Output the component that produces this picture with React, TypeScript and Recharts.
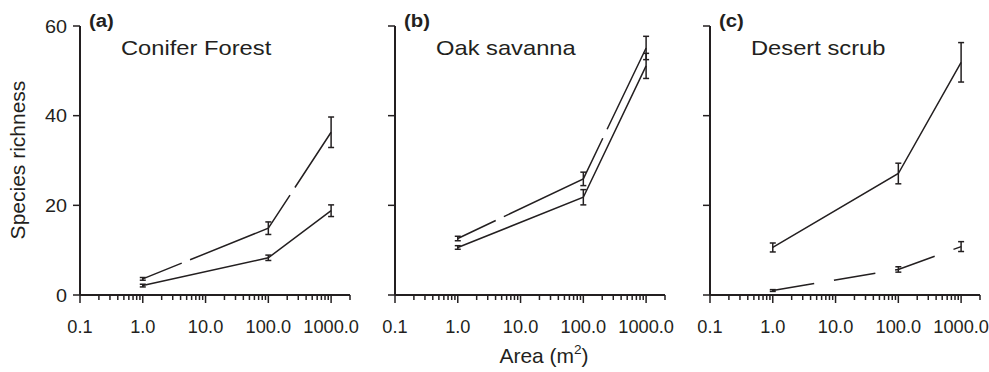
import React from "react";
import { LineChart, Line, XAxis, YAxis, ErrorBar } from "recharts";

// ---- data ----
const areas = [1, 100, 1000];

const coniferSolid = [2.1, 8.3, 18.8];
const coniferSolidErr = [0.3, 0.6, 1.3];
const coniferDashed = [3.6, 14.9, 36.3];
const coniferDashedErr = [0.3, 1.4, 3.4];

const oakSolid = [10.6, 21.8, 51.1];
const oakSolidErr = [0.4, 1.7, 2.8];
const oakDashed = [12.6, 25.9, 55.1];
const oakDashedErr = [0.5, 1.5, 2.6];

const desertSolid = [10.6, 27.1, 51.9];
const desertSolidErr = [1.0, 2.3, 4.4];
const desertDashed = [1.0, 5.7, 10.8];
const desertDashedErr = [0.2, 0.6, 1.1];

const panelLetters = ["(a)", "(b)", "(c)"];
const panelTitles = ["Conifer Forest", "Oak savanna", "Desert scrub"];

const majorXTicks = [0.1, 1, 10, 100, 1000];
const majorXLabels = ["0.1", "1.0", "10.0", "100.0", "1000.0"];
const minorXTicks = [
  0.2, 0.3, 0.4, 0.5, 0.6, 0.7, 0.8, 0.9,
  2, 3, 4, 5, 6, 7, 8, 9,
  20, 30, 40, 50, 60, 70, 80, 90,
  200, 300, 400, 500, 600, 700, 800, 900,
  2000,
];
const yTicks = [0, 20, 40, 60];
const yAxisTitle = "Species richness";
const xAxisTitle = "Area (m";
const xAxisTitleSup = "2";

// ---- style ----
const INK = "#231f20";
const FONT = "'Liberation Sans', Arial, Helvetica, sans-serif";
const SX_TITLE = 1.13;
const SX_TICK = 1.04;
const SX_AXIS = 1.05;
const PANEL_STEP = 315;

const allXTicks = [...majorXTicks, ...minorXTicks].sort((a, b) => a - b);

function buildRows(s: number[], se: number[], d: number[], de: number[]) {
  return areas.map((a, i) => ({
    area: a,
    solid: s[i],
    solidErr: se[i],
    dashed: d[i],
    dashedErr: de[i],
  }));
}

const panels = [
  { data: buildRows(coniferSolid, coniferSolidErr, coniferDashed, coniferDashedErr), dash: "42 9 124 9 80" },
  { data: buildRows(oakSolid, oakSolidErr, oakDashed, oakDashedErr), dash: "42 9 133 10 100" },
  { data: buildRows(desertSolid, desertSolidErr, desertDashed, desertDashedErr), dash: "42 20" },
];

function SText(props: any) {
  const { x, y, size, anchor = "start", weight = "normal", sx = 1, children } = props;
  return (
    <text
      transform={`translate(${x},${y}) scale(${sx},1)`}
      x={0}
      y={0}
      fontSize={size}
      fontWeight={weight}
      fontFamily={FONT}
      textAnchor={anchor}
      fill={INK}
    >
      {children}
    </text>
  );
}

function renderXTick(props: any) {
  const { x, y, payload } = props;
  const v = payload.value;
  const idx = majorXTicks.indexOf(v);
  const major = idx >= 0;
  return (
    <g>
      <line x1={x} x2={x} y1={y} y2={y + (major ? 8 : 5)} stroke={INK} strokeWidth={1.5} />
      {major && (
        <SText x={x} y={y + 38} size={17.5} anchor="middle" sx={SX_TICK}>
          {majorXLabels[idx]}
        </SText>
      )}
    </g>
  );
}

function makeYTick(showLabel: boolean) {
  return (props: any) => {
    const { x, y, payload } = props;
    return (
      <g>
        <line x1={x - 7} x2={x} y1={y} y2={y} stroke={INK} strokeWidth={1.5} />
        {showLabel && (
          <SText x={x - 13} y={y + 6.5} size={18} anchor="end" sx={1.1}>
            {String(payload.value)}
          </SText>
        )}
      </g>
    );
  };
}

function Panel({ index }: { index: number }) {
  const p = panels[index];
  return (
    <div style={{ position: "absolute", left: index * PANEL_STEP, top: 0 }}>
      <LineChart
        width={370}
        height={372}
        data={p.data}
        margin={{ top: 26, right: 20, bottom: 67, left: 70 }}
      >
        <XAxis
          dataKey="area"
          type="number"
          scale="log"
          domain={[0.1, 2000]}
          allowDataOverflow
          ticks={allXTicks}
          interval={0}
          height={10}
          tickSize={0}
          tickMargin={0}
          tickLine={false}
          axisLine={{ stroke: INK, strokeWidth: 2 }}
          tick={renderXTick}
        />
        <YAxis
          type="number"
          domain={[0, 60]}
          ticks={yTicks}
          interval={0}
          width={10}
          tickSize={0}
          tickMargin={0}
          tickLine={false}
          axisLine={{ stroke: INK, strokeWidth: 2 }}
          tick={makeYTick(index === 0)}
        />
        <Line
          type="linear"
          dataKey="solid"
          stroke={INK}
          strokeWidth={1.5}
          dot={false}
          activeDot={false}
          isAnimationActive={false}
        >
          <ErrorBar dataKey="solidErr" width={3} stroke={INK} strokeWidth={1.5} direction="y" />
        </Line>
        <Line
          type="linear"
          dataKey="dashed"
          stroke={INK}
          strokeWidth={1.5}
          strokeDasharray={p.dash}
          dot={false}
          activeDot={false}
          isAnimationActive={false}
        >
          <ErrorBar dataKey="dashedErr" width={3} stroke={INK} strokeWidth={1.5} direction="y" />
        </Line>
      </LineChart>
    </div>
  );
}

export default function App() {
  return (
    <div
      style={{
        position: "absolute",
        left: 0,
        top: 0,
        width: 989,
        height: 372,
        overflow: "hidden",
        background: "#fff",
      }}
    >
      {panels.map((_, i) => (
        <Panel key={i} index={i} />
      ))}
      <svg
        width={989}
        height={372}
        style={{ position: "absolute", left: 0, top: 0, pointerEvents: "none" }}
      >
        {panels.map((_, i) => {
          const ax = 80 + i * PANEL_STEP;
          return (
            <g key={i}>
              <SText x={ax + 9} y={27} size={18} weight="bold" sx={SX_TITLE}>
                {panelLetters[i]}
              </SText>
              <SText x={ax + 41} y={55} size={21} sx={SX_TITLE}>
                {panelTitles[i]}
              </SText>
            </g>
          );
        })}
        <text
          transform="translate(25,160) rotate(-90)"
          fontSize={21}
          fontFamily={FONT}
          textAnchor="middle"
          fill={INK}
        >
          {yAxisTitle}
        </text>
        <text
          transform={`translate(544,363) scale(${SX_AXIS},1)`}
          fontSize={20}
          fontFamily={FONT}
          textAnchor="middle"
          fill={INK}
        >
          {xAxisTitle}
          <tspan fontSize={13} dy={-9}>
            {xAxisTitleSup}
          </tspan>
          <tspan dy={9}>)</tspan>
        </text>
      </svg>
    </div>
  );
}
